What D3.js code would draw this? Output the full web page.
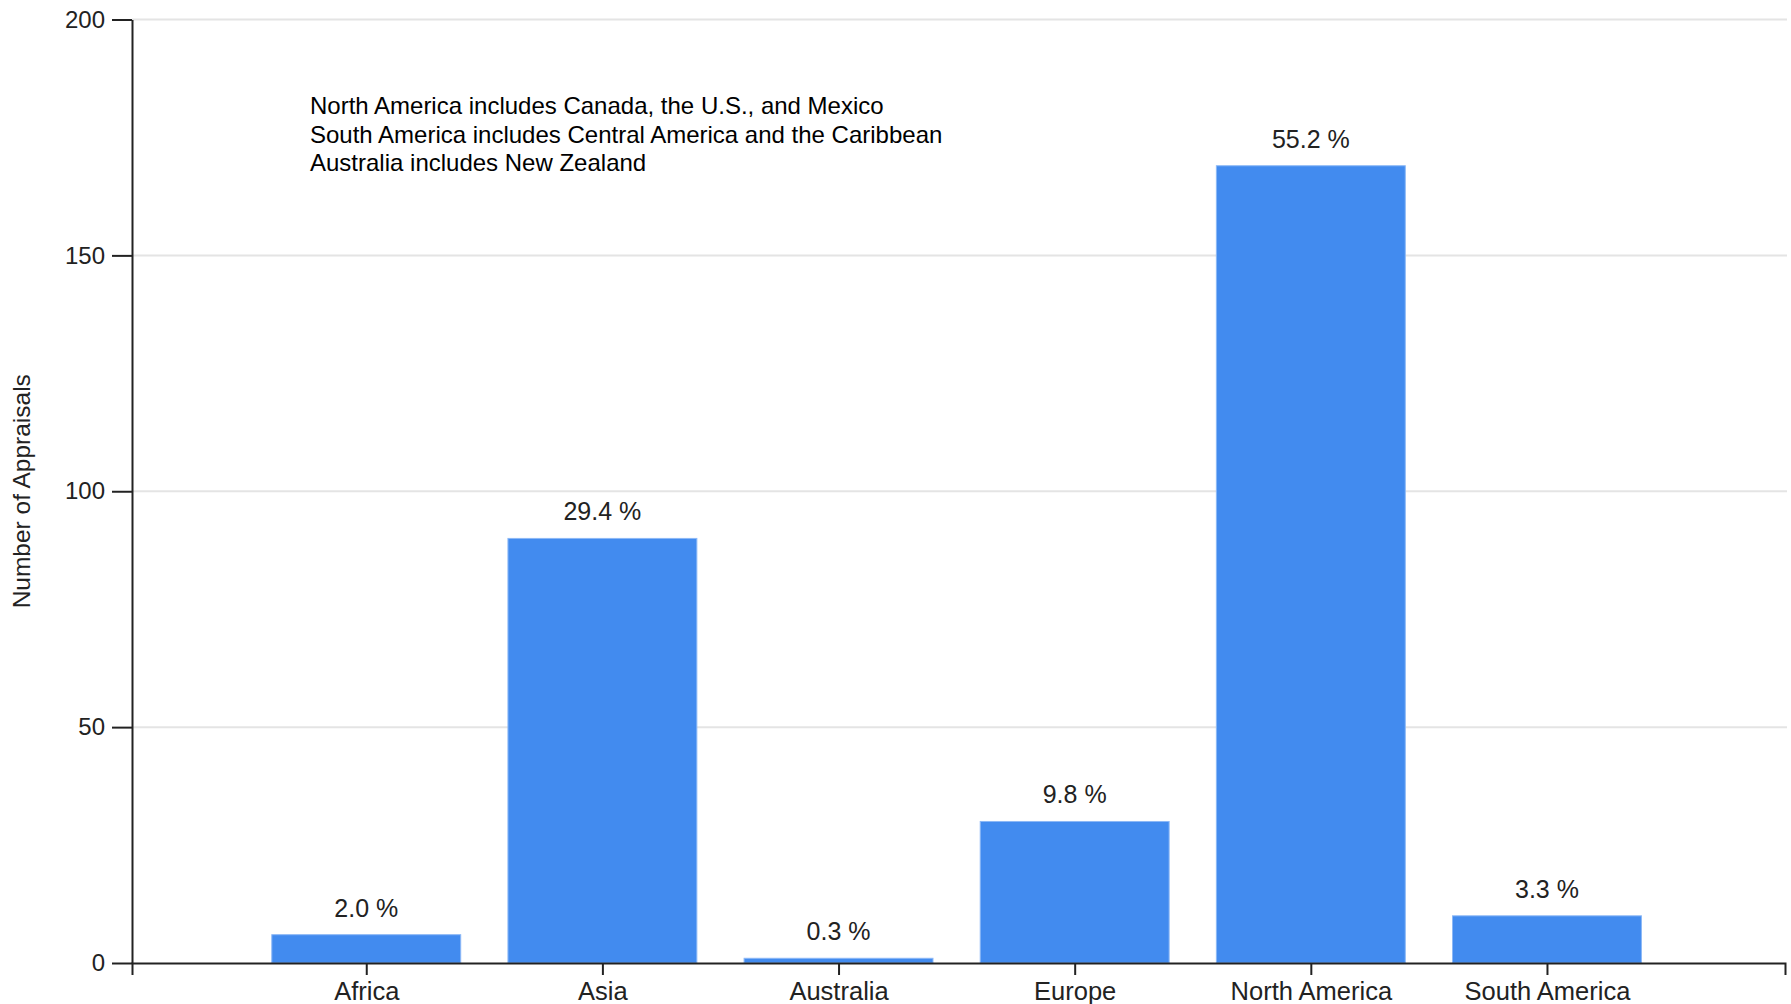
<!DOCTYPE html>
<html>
<head>
<meta charset="utf-8">
<script src="https://cdn.jsdelivr.net/npm/d3@7"></script>
<style>
  body { margin: 0; background: #fff; }
  svg { display: block; font-family: "Liberation Sans", Arial, sans-serif; }
</style>
</head>
<body>
<div id="chart"></div>
<script>
// data
var regions = ["Africa", "Asia", "Australia", "Europe", "North America", "South America"];
var appraisals = [6, 90, 1, 30, 169, 10];
var yTicks = [0, 50, 100, 150, 200];
var notes = [
    "North America includes Canada, the U.S., and Mexico",
    "South America includes Central America and the Caribbean",
    "Australia includes New Zealand"
];

var width = 1791, height = 1004;
var plotLeft = 132, plotRight = 1785, plotTop = 19.5, plotBottom = 963;

var total = d3.sum(appraisals);
var rows = regions.map(function (r, i) { return {region: r, value: appraisals[i]}; });

var svg = d3.select('#chart')
    .append('svg')
    .attr('width', width)
    .attr('height', height);

var x = d3.scalePoint()
    .domain(regions)
    .range([plotLeft, plotRight])
    .padding(1)
    .align(0.496);

var y = d3.scaleLinear()
    .domain([0, 200])
    .range([plotBottom, plotTop]);

var barWidth = x.step() * 0.8;

// grid lines
svg.append('g')
    .selectAll('line')
    .data(yTicks.filter(function (d) { return d > 0; }))
    .enter().append('line')
    .attr('x1', plotLeft)
    .attr('x2', plotRight + 2)
    .attr('y1', function (d) { return y(d); })
    .attr('y2', function (d) { return y(d); })
    .style('stroke', '#e4e4e4')
    .style('stroke-width', 2);

// bars
svg.append('g')
    .selectAll('rect')
    .data(rows)
    .enter().append('rect')
    .attr('x', function (d) { return x(d.region) - barWidth / 2; })
    .attr('y', function (d) { return y(d.value); })
    .attr('width', barWidth)
    .attr('height', function (d) { return y(0) - y(d.value); })
    .style('fill', '#428bef')
    .style('stroke', '#8cb8f6')
    .style('stroke-width', 1);

// percentage labels
svg.append('g')
    .selectAll('text')
    .data(rows)
    .enter().append('text')
    .attr('x', function (d) { return x(d.region); })
    .attr('y', function (d) { return y(d.value) - 18; })
    .attr('text-anchor', 'middle')
    .attr('font-size', 25)
    .attr('fill', '#222')
    .text(function (d) { return (d.value / total * 100).toFixed(1) + ' %'; });

// axes
var yAxis = svg.append('g')
    .attr('transform', 'translate(' + plotLeft + ',0)')
    .call(d3.axisLeft(y).tickValues(yTicks).tickSize(20).tickSizeOuter(0).tickPadding(7));

var xAxis = svg.append('g')
    .attr('transform', 'translate(0,' + plotBottom + ')')
    .call(d3.axisBottom(x).tickSize(12).tickPadding(7));

[yAxis, xAxis].forEach(function (a) {
    a.selectAll('path, line').style('stroke', '#222').style('stroke-width', 2);
    a.selectAll('text').attr('fill', '#222')
        .style('font-family', '"Liberation Sans", Arial, sans-serif');
});
yAxis.selectAll('text').attr('font-size', 24);
xAxis.selectAll('text').attr('font-size', 25.5);

// y axis title
svg.append('text')
    .attr('transform', 'translate(30,' + (plotTop + plotBottom) / 2 + ') rotate(-90)')
    .attr('text-anchor', 'middle')
    .attr('font-size', 24.5)
    .attr('fill', '#222')
    .text('Number of Appraisals');

// notes
svg.append('g')
    .selectAll('text')
    .data(notes)
    .enter().append('text')
    .attr('x', 310)
    .attr('y', function (d, i) { return 114 + i * 28.5; })
    .attr('font-size', 24)
    .attr('fill', '#000')
    .text(function (d) { return d; });
</script>
</body>
</html>
